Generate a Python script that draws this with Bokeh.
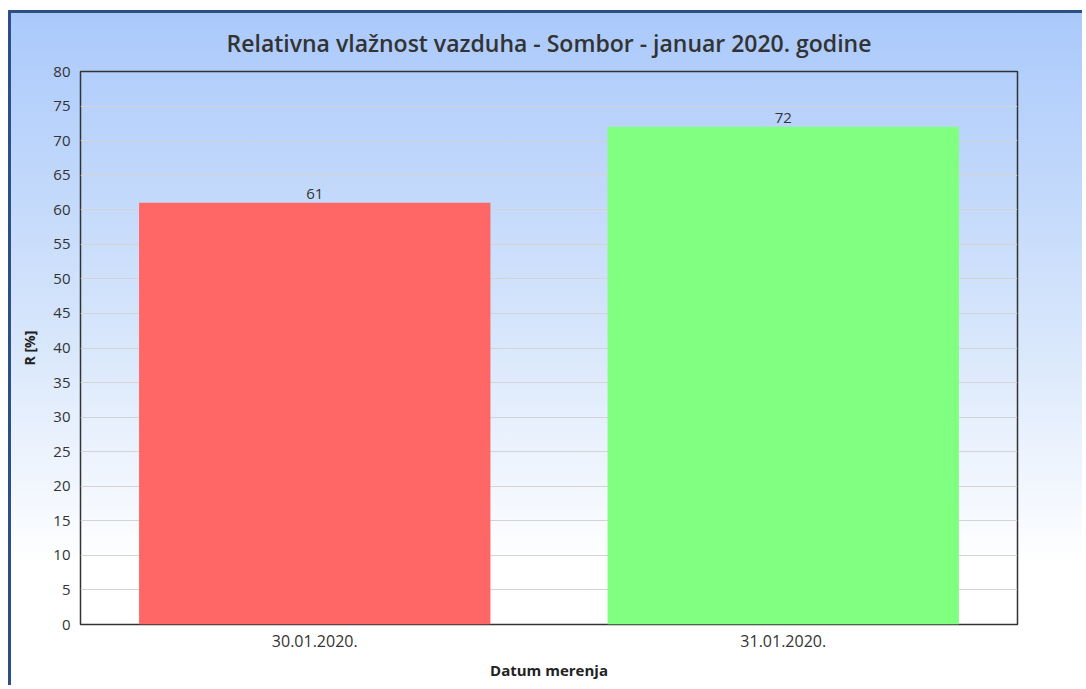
from bokeh.plotting import figure
from bokeh.models import FixedTicker, ColumnDataSource, LabelSet
from bokeh.core.properties import value
from bokeh.embed import file_html
from bokeh.resources import INLINE

# Data
dates = ["30.01.2020.", "31.01.2020."]
humidity = [61, 72]
colors = ["#ff6666", "#80ff80"]
y_ticks = [0, 5, 10, 15, 20, 25, 30, 35, 40, 45, 50, 55, 60, 65, 70, 75, 80]

src = ColumnDataSource(dict(x=dates, y=humidity, c=colors, lbl=[str(v) for v in humidity]))

p = figure(
    x_range=dates, y_range=(0, 80),
    width=1074, height=675,
    output_backend="svg", toolbar_location=None,
    title="Relativna vlažnost vazduha - Sombor - januar 2020. godine",
    min_border_left=69, min_border_right=68, min_border_top=58, min_border_bottom=64,
)
p.styles = {
    "background-image": "linear-gradient(to bottom, #aac9fb 0%, #d4e4fb 45%, #ffffff 82%)",
    "border-top": "3px solid #2c5086",
    "border-left": "3px solid #2c5086",
    "margin-left": "8px",
    "margin-top": "10px",
}
p.border_fill_color = None
p.background_fill_color = None
p.outline_line_color = "#333333"
p.outline_line_width = 1.5

p.vbar(x="x", top="y", width=0.75, fill_color="c", line_color=None, source=src)
labels = LabelSet(x="x", y="y", text="lbl", source=src, text_align="center",
                  text_baseline="bottom", y_offset=4, text_font_size="15px",
                  text_font=value("Open Sans"), text_color="#333333")
p.add_layout(labels)

p.title.text_font = "Open Sans SemiBold"
p.title.text_font_size = "23px"
p.title.text_font_style = "normal"
p.title.text_color = "#333333"
p.title.align = "center"
p.title.vertical_align = "top"
p.title.standoff = 22

p.yaxis.ticker = FixedTicker(ticks=y_ticks)
p.ygrid.grid_line_color = "#d4d4d4"
p.xgrid.grid_line_color = None

for ax in (p.xaxis, p.yaxis):
    ax.axis_line_color = None
    ax.major_tick_line_color = None
    ax.minor_tick_line_color = None
    ax.major_tick_out = 0
    ax.major_tick_in = 0
    ax.minor_tick_out = 0
    ax.minor_tick_in = 0
    ax.major_label_text_font = "Open Sans"
    ax.major_label_text_color = "#333333"
    ax.axis_label_text_font = "Open Sans"
    ax.axis_label_text_font_style = "bold"
    ax.axis_label_text_color = "#222222"

p.yaxis.major_label_text_font_size = "15px"
p.xaxis.major_label_text_font_size = "16px"
p.yaxis.axis_label = "R [%]"
p.yaxis.axis_label_text_font_size = "14px"
p.yaxis.major_label_standoff = 10
p.yaxis.axis_label_standoff = 11
p.xaxis.axis_label = "Datum merenja"
p.xaxis.axis_label_text_font_size = "15px"
p.xaxis.major_label_standoff = 10
p.xaxis.axis_label_standoff = 10

open("out.html", "w").write(file_html(p, INLINE))
